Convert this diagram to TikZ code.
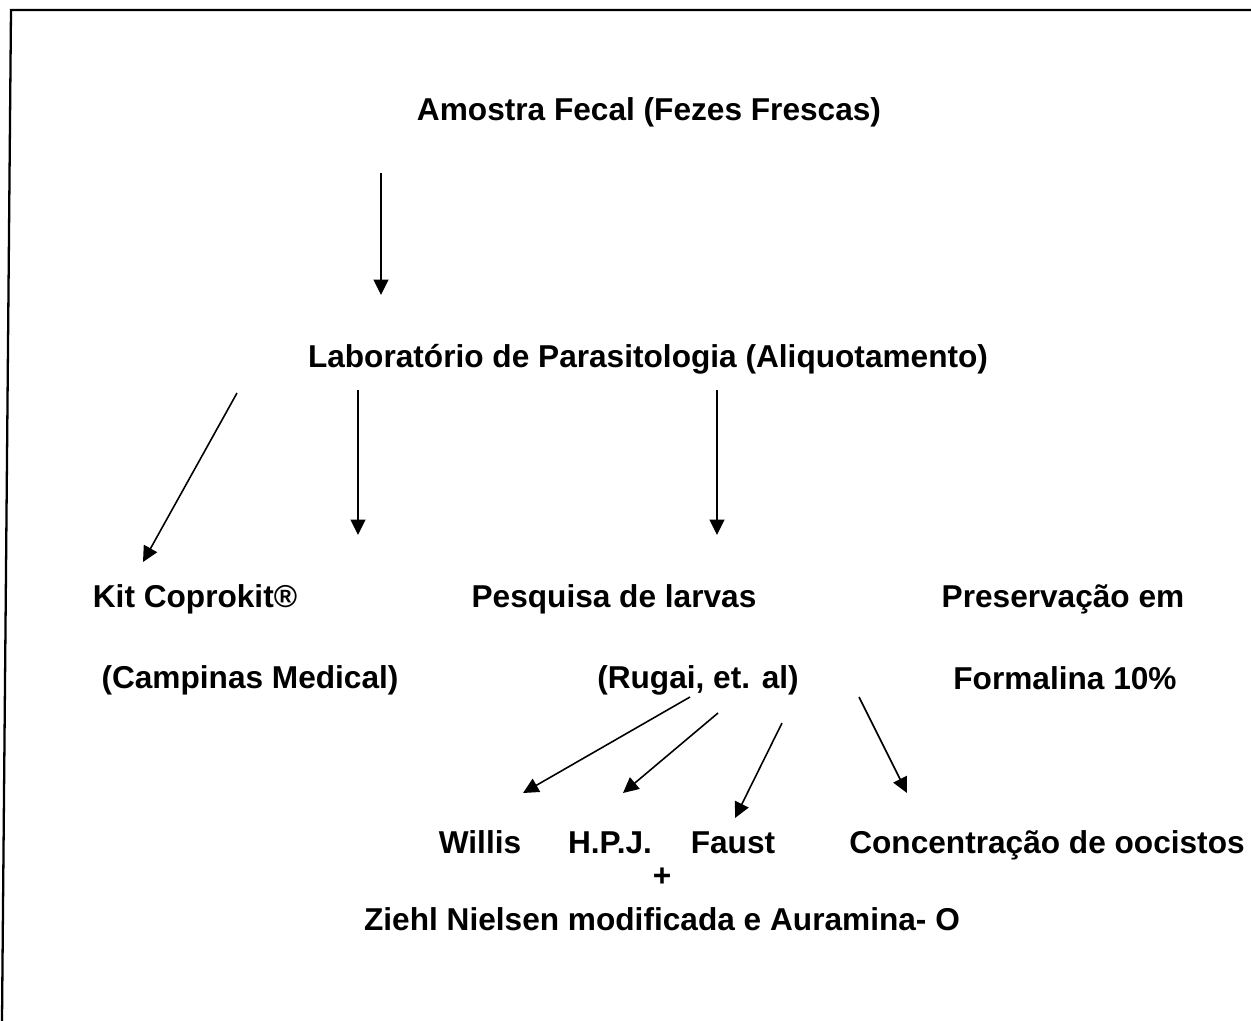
\documentclass[tikz,border=0pt]{standalone}
\usepackage{fontspec}
\setmainfont{Liberation Sans}
\usepackage{xcolor}
\usepackage{tikz}
\usetikzlibrary{arrows.meta}

\tikzset{
    rotulo/.style = {font=\bfseries\fontsize{18}{22}\selectfont, inner sep=0pt, anchor=base},
    seta/.style = {-{Triangle[length=0.31cm, width=0.3cm]}, line width=0.9pt}
}

\begin{document}
\begin{tikzpicture}[x=0.02cm, y=-0.02cm]
            \useasboundingbox (0, 0) rectangle (1251, 1021);
            \draw[line width=1.3pt] (1251, 10) -- (11, 10) -- (2, 1021);

            \node[rotulo] (amostra) at (649, 120) {Amostra Fecal (Fezes Frescas)};
            \node[rotulo] (lab) at (648, 367) {Laboratório de Parasitologia (Aliquotamento)};
            \node[rotulo] (kit) at (195, 607) {Kit Coprokit®};
            \node[rotulo] (campinas) at (250, 688) {(Campinas Medical)};
            \node[rotulo] (larvas) at (614, 607) {Pesquisa de larvas};
            \node[rotulo] (rugai) at (698, 688) {(Rugai, et. al)};
            \node[rotulo] (preserv) at (1063, 607) {Preservação em};
            \node[rotulo] (formalina) at (1065, 689) {Formalina 10\%};
            \node[rotulo] (willis) at (480, 853) {Willis};
            \node[rotulo] (hpj) at (610, 853) {H.P.J.};
            \node[rotulo] (faust) at (733, 853) {Faust};
            \node[rotulo] (oocistos) at (1047, 853) {Concentração de oocistos};
            \node[rotulo] (mais) at (662, 886) {+};
            \node[rotulo] (ziehl) at (662, 930) {Ziehl Nielsen modificada e Auramina- O};

            %pontas das setas
            \coordinate (s1a) at (381, 173);  \coordinate (s1b) at (381, 295);
            \coordinate (s2a) at (237, 393);  \coordinate (s2b) at (143, 562);
            \coordinate (s3a) at (358, 390);  \coordinate (s3b) at (358, 535);
            \coordinate (s4a) at (717, 390);  \coordinate (s4b) at (717, 535);
            \coordinate (s5a) at (690, 697);  \coordinate (s5b) at (523, 793);
            \coordinate (s6a) at (718, 713);  \coordinate (s6b) at (623, 793);
            \coordinate (s7a) at (782, 723);  \coordinate (s7b) at (735, 818);
            \coordinate (s8a) at (859, 697);  \coordinate (s8b) at (907, 793);

            \draw[seta] (s1a) -- (s1b);
            \draw[seta] (s2a) -- (s2b);
            \draw[seta] (s3a) -- (s3b);
            \draw[seta] (s4a) -- (s4b);
            \draw[seta] (s5a) -- (s5b);
            \draw[seta] (s6a) -- (s6b);
            \draw[seta] (s7a) -- (s7b);
            \draw[seta] (s8a) -- (s8b);
        \end{tikzpicture}
\end{document}
